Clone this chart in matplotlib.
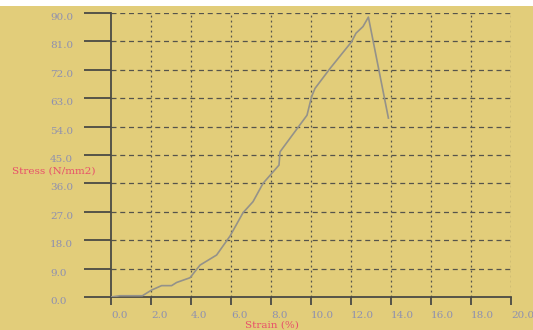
import matplotlib
matplotlib.use("Agg")
import matplotlib.pyplot as plt
from matplotlib.patches import Rectangle

# DATA
strain = [0.0, 0.45, 1.57, 2.03, 2.53, 3.03, 3.28, 3.95, 4.45, 5.28, 5.95, 6.6, 7.1, 7.6,
          8.4, 8.45, 9.8, 10.03, 10.2, 10.95, 12.03, 12.25, 12.6, 12.87, 13.87]
stress = [0.0, 0.4, 0.4, 2.2, 3.6, 3.6, 4.6, 6.1, 10.1, 13.3, 19.3, 26.7, 30.2, 36.0,
          41.8, 46.0, 57.6, 63.5, 66.1, 72.4, 80.9, 83.6, 85.7, 88.7, 56.7]
x_ticks = [0, 2, 4, 6, 8, 10, 12, 14, 16, 18, 20]
y_ticks = [0, 9, 18, 27, 36, 45, 54, 63, 72, 81, 90]

BG = "#e2cd7a"
AXIS = "#4a4a44"
TICKTXT = "#8e90b0"
RED = "#e8506a"

fig = plt.figure(figsize=(5.33, 3.30), dpi=100, facecolor=BG)
fig.patches.append(Rectangle((0, 1 - 6 / 330), 1, 6 / 330, transform=fig.transFigure,
                             facecolor="white", edgecolor="none"))
ax = fig.add_axes([111 / 533, 1 - 297 / 330, 400 / 533, 284 / 330])
ax.set_facecolor(BG)

ax.plot(strain, stress, color="#94928a", linewidth=1.2, zorder=3)

ax.set_xlim(0, 20)
ax.set_ylim(0, 90)

# grid
for xv in x_ticks[1:]:
    ax.axvline(xv, color="#55544c", linewidth=0.9, linestyle=(0, (1.5, 2.5)), zorder=1)
for yv in y_ticks[1:]:
    ax.axhline(yv, color="#55544c", linewidth=0.9, linestyle=(0, (4, 3)), zorder=1)

for s in ["top", "right"]:
    ax.spines[s].set_visible(False)
ax.spines["left"].set_color(AXIS)
ax.spines["bottom"].set_color(AXIS)
ax.spines["left"].set_linewidth(1.3)
ax.spines["bottom"].set_linewidth(1.3)

ax.set_xticks(x_ticks)
ax.set_xticklabels(["%.1f" % v for v in x_ticks])
ax.set_yticks(y_ticks)
ax.set_yticklabels(["%.1f" % v for v in y_ticks])
ax.tick_params(axis="y", length=27 * 0.72, width=1.3, color=AXIS,
               labelsize=7.5, labelcolor=TICKTXT, pad=(111 - 50 - 27) * 0.72)
ax.tick_params(axis="x", length=8 * 0.72, width=1.3, color=AXIS, pad=4,
               labelsize=7.5, labelcolor=TICKTXT)
for lbl in ax.get_xticklabels():
    lbl.set_fontfamily("DejaVu Serif")
    lbl.set_ha("left")
for lbl in ax.get_yticklabels():
    lbl.set_fontfamily("DejaVu Serif")
    lbl.set_ha("left")
    lbl.set_va("top")

fig.text(12 / 533, 1 - 171 / 330, "Stress (N/mm2)", color=RED, fontsize=7.5,
         family="DejaVu Serif", ha="left", va="center")
fig.text(272 / 533, 1 - 325 / 330, "Strain (%)", color=RED, fontsize=7.5,
         family="DejaVu Serif", ha="center", va="center")

fig.savefig("out.png", dpi=100, facecolor=BG)
